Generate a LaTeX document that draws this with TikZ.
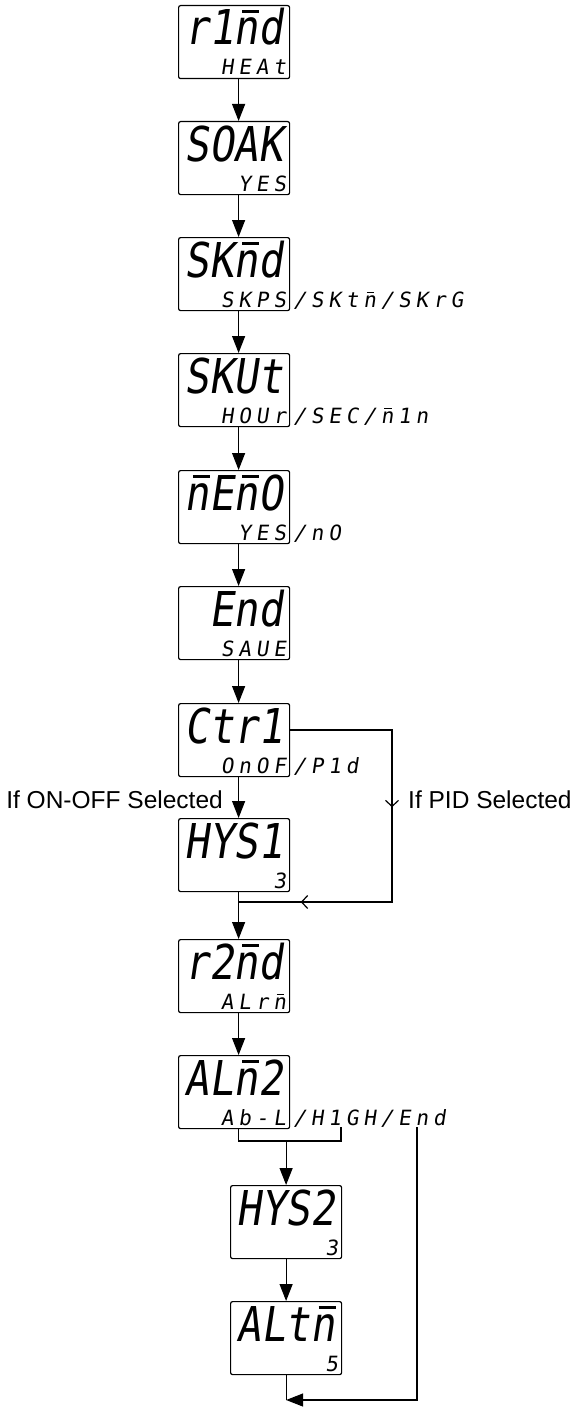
\documentclass[tikz,border=0pt]{standalone}
\usepackage{fontspec}
\setmainfont{Liberation Sans}
\newfontfamily\segfont{DejaVu Sans Mono}[FakeSlant=0.15,FakeStretch=0.85]
\newfontfamily\segsmall{DejaVu Sans Mono}[FakeSlant=0.15,LetterSpace=23]
\usetikzlibrary{arrows.meta,decorations.markings}
\tikzset{openbarb/.tip={Straight Barb[length=6pt,width=13pt,line width=1.2pt]}}
\newcommand\mb{\leavevmode\rlap{\hspace{0.17em}\rule[0.66em]{0.36em}{0.075em}}n}
\newcommand\mbs{\kern0.23em\mb}
\newcommand\dispbox[5]{%
  \node[box] (#1) at (#2,#3) {};
  \node[big] (#1big) at ([xshift=-7pt,yshift=-40pt]#1.north east) {#4};
  \node[small] (#1small) at ([xshift=-4pt,yshift=-70pt]#1.north east) {#5};
}
\begin{document}
\begin{tikzpicture}[x=1pt,y=-1pt,
  box/.style={draw, line width=1.2pt, rounded corners=2pt, minimum width=111pt,
    minimum height=73pt, inner sep=0pt, anchor=north west},
  big/.style={font=\segfont\fontsize{48}{48}\selectfont, inner sep=0pt, anchor=base east},
  small/.style={font=\segsmall\fontsize{21}{21}\selectfont, inner sep=0pt, anchor=base east},
  alt/.style={font=\segsmall\fontsize{21}{21}\selectfont, inner sep=0pt, anchor=base west},
  lab/.style={font=\fontsize{24.5}{26}\selectfont, inner sep=0pt},
  flow/.style={line width=1.2pt, -{Triangle[length=17pt,width=13pt]}},
  plain/.style={line width=1.2pt},
]
\useasboundingbox (0,0) rectangle (575,1410);

\dispbox{b1}{178}{5}{r1\mb d}{HEAt}
\dispbox{b2}{178}{121}{SOAK}{YES}
\dispbox{b3}{178}{237}{SK\mb d}{SKPS}
\dispbox{b4}{178}{353}{SKUt}{HOUr}
\dispbox{b5}{178}{470}{\mb E\mb O}{YES}
\dispbox{b6}{178}{586}{End}{SAUE}
\dispbox{b7}{178}{703}{Ctr1}{OnOF}
\dispbox{b8}{178}{818}{HYS1}{3}
\dispbox{b9}{178}{939}{r2\mb d}{ALr\mbs}
\dispbox{b10}{178}{1055}{AL\mb 2}{Ab-L}
\dispbox{b11}{230}{1185}{HYS2}{3}
\dispbox{b12}{230}{1301}{ALt\mb}{5}

\node[alt] (b3alt) at ([xshift=3pt,yshift=-70pt]b3.north east) {/SKt\mbs/SKrG};
\node[alt] (b4alt) at ([xshift=3pt,yshift=-70pt]b4.north east) {/SEC/\mbs 1n};
\node[alt] (b5alt) at ([xshift=3pt,yshift=-70pt]b5.north east) {/nO};
\node[alt] (b7alt) at ([xshift=3pt,yshift=-70pt]b7.north east) {/P1d};
\node[alt] (b10alt) at ([xshift=3pt,yshift=-70pt]b10.north east) {/H1GH/End};

\foreach \a/\b in {b1/b2,b2/b3,b3/b4,b4/b5,b5/b6,b6/b7,b7/b8,b8/b9,b9/b10}
  \draw[flow] ([xshift=4.5pt]\a.south) -- ([xshift=4.5pt]\b.north);

% PID branch
\coordinate (pc) at (392,730);
\coordinate (pd) at (392,902);
\coordinate (jn) at (238,902);
\draw[plain, decoration={markings,
    mark=at position 179pt with {\arrow{openbarb}},
    mark=at position 365pt with {\arrow{openbarb}}}, postaction=decorate]
  (b7.east |- pc) -- (pc) -- (pd) -- (jn);

\node[lab, anchor=base east] (lon) at (223,808) {If ON-OFF Selected};
\node[lab, anchor=base west] (lpid) at (408,808) {If PID Selected};

% alarm split
\coordinate (sr) at (341,1141);
\coordinate (su) at (341,1127);
\draw[plain] ([xshift=4.5pt]b10.south) |- (sr) -- (su);
\draw[flow] (b11.north |- sr) -- (b11.north);
\draw[flow] (b11.south) -- (b12.north);

% end branch
\coordinate (er) at (417,1127);
\coordinate (bt) at (285,1400);
\draw[plain] (b12.south) -- (b12.south |- bt);
\draw[flow] (er) |- (b12.south |- bt);
\end{tikzpicture}
\end{document}
